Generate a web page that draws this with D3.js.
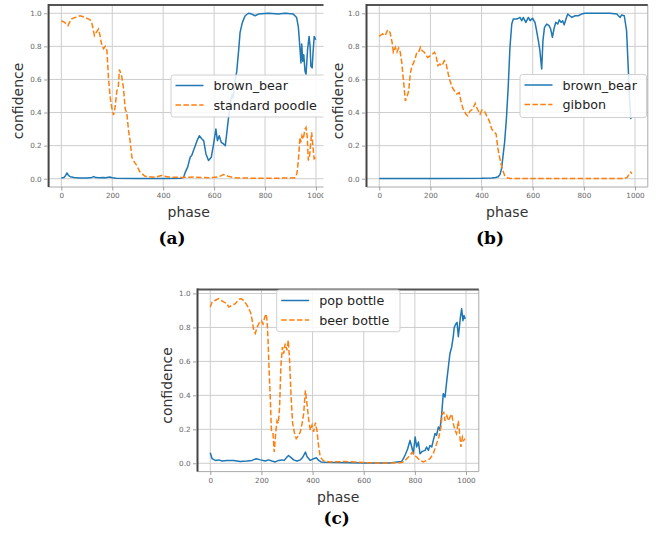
<!DOCTYPE html>
<html>
<head>
<meta charset="utf-8">
<script src="https://cdn.jsdelivr.net/npm/d3@7"></script>
<style>
  html, body { margin: 0; padding: 0; background: #fff; }
  svg { display: block; }
  text { font-family: "DejaVu Sans", sans-serif; }
</style>
</head>
<body>
<svg id="fig" width="657" height="535"></svg>
<script>
// Tick labels shared by every panel
const phaseTicks = [0, 200, 400, 600, 800, 1000];
const confTicks = [0, 0.2, 0.4, 0.6, 0.8, 1.0];

// Classifier confidence over the interpolation phase, [phase, confidence]
const bearA = [[0,0.005],[10,0.008],[17,0.02],[22,0.035],[28,0.02],[35,0.012],[50,0.008],[70,0.004],[100,0.005],[120,0.008],[127,0.013],[135,0.007],[150,0.006],[165,0.008],[175,0.006],[190,0.01],[200,0.006],[215,0.003],[300,0.002],[400,0.002],[470,0.003],[480,0.008],[487,0.04],[496,0.07],[506,0.13],[512,0.14],[519,0.17],[526,0.2],[533,0.23],[542,0.26],[552,0.24],[559,0.23],[568,0.15],[578,0.11],[589,0.13],[598,0.21],[607,0.30],[613,0.23],[620,0.26],[628,0.22],[637,0.21],[644,0.20],[650,0.28],[656,0.36],[663,0.45],[670,0.51],[675,0.49],[680,0.57],[689,0.65],[696,0.77],[702,0.885],[711,0.945],[722,0.985],[735,1.0],[748,0.995],[761,0.985],[774,0.995],[813,1.0],[852,0.995],[879,1.0],[911,0.995],[924,0.975],[931,0.915],[937,0.79],[941,0.70],[944,0.815],[948,0.71],[952,0.75],[957,0.65],[961,0.63],[967,0.78],[973,0.86],[977,0.80],[980,0.68],[985,0.67],[988,0.75],[993,0.86],[999,0.84]];
const poodleA = [[0,0.955],[13,0.945],[26,0.925],[39,0.965],[55,0.975],[74,0.985],[94,0.975],[113,0.96],[120,0.94],[130,0.865],[137,0.885],[146,0.905],[152,0.865],[159,0.805],[166,0.785],[172,0.80],[179,0.775],[185,0.613],[192,0.49],[198,0.43],[205,0.385],[211,0.43],[218,0.53],[224,0.56],[228,0.66],[237,0.62],[244,0.55],[251,0.42],[257,0.40],[264,0.29],[270,0.23],[277,0.13],[287,0.10],[296,0.08],[309,0.04],[329,0.015],[368,0.008],[382,0.015],[394,0.02],[405,0.015],[420,0.01],[472,0.008],[520,0.01],[580,0.006],[615,0.01],[637,0.025],[655,0.015],[680,0.006],[750,0.003],[850,0.003],[918,0.006],[925,0.03],[931,0.11],[937,0.25],[941,0.22],[945,0.26],[950,0.24],[957,0.30],[961,0.31],[966,0.25],[970,0.11],[975,0.14],[983,0.28],[989,0.18],[993,0.12],[999,0.13]];

const bearB = [[0,0.002],[200,0.002],[400,0.003],[440,0.005],[455,0.007],[465,0.012],[472,0.025],[478,0.06],[484,0.14],[490,0.22],[497,0.36],[504,0.55],[511,0.795],[518,0.935],[524,0.965],[538,0.965],[550,0.975],[557,0.955],[563,0.975],[573,0.945],[583,0.975],[590,0.955],[599,0.97],[609,0.945],[615,0.895],[622,0.835],[628,0.775],[635,0.663],[640,0.835],[646,0.915],[655,0.935],[664,0.925],[670,0.905],[677,0.855],[683,0.905],[690,0.945],[698,0.935],[704,0.96],[711,0.945],[717,0.955],[723,0.93],[730,0.965],[737,0.995],[745,0.985],[753,0.975],[766,0.985],[778,0.985],[791,0.995],[804,1.0],[900,1.0],[929,0.995],[935,0.985],[942,0.975],[948,0.99],[958,0.985],[967,0.895],[974,0.653],[978,0.49],[984,0.36]];
const gibbonB = [[0,0.86],[3,0.865],[13,0.875],[23,0.865],[33,0.90],[42,0.885],[50,0.825],[55,0.765],[63,0.795],[69,0.765],[76,0.79],[82,0.765],[88,0.70],[96,0.57],[102,0.47],[109,0.50],[115,0.53],[121,0.633],[128,0.683],[134,0.70],[140,0.725],[147,0.765],[154,0.765],[161,0.795],[167,0.775],[176,0.765],[189,0.733],[202,0.745],[216,0.765],[222,0.745],[229,0.683],[237,0.693],[245,0.683],[254,0.713],[261,0.70],[267,0.653],[274,0.603],[285,0.553],[293,0.533],[303,0.512],[313,0.52],[319,0.47],[328,0.42],[339,0.39],[346,0.38],[355,0.41],[365,0.42],[375,0.455],[384,0.42],[394,0.39],[401,0.415],[411,0.41],[420,0.38],[430,0.35],[440,0.30],[450,0.28],[457,0.27],[463,0.19],[469,0.14],[476,0.09],[483,0.05],[490,0.02],[500,0.006],[512,0.001],[700,0.001],[960,0.001],[970,0.01],[978,0.03],[983,0.04],[988,0.03]];

const popC = [[0,0.062],[7,0.027],[20,0.017],[33,0.02],[46,0.013],[65,0.017],[91,0.017],[117,0.01],[143,0.013],[163,0.017],[180,0.027],[196,0.02],[215,0.013],[228,0.02],[241,0.013],[254,0.008],[267,0.017],[280,0.02],[289,0.017],[300,0.037],[306,0.046],[316,0.033],[326,0.02],[339,0.013],[352,0.02],[362,0.037],[372,0.066],[378,0.04],[391,0.017],[404,0.027],[415,0.033],[424,0.017],[433,0.008],[450,0.006],[500,0.004],[600,0.002],[700,0.002],[748,0.01],[755,0.027],[764,0.056],[772,0.086],[781,0.135],[788,0.096],[794,0.056],[801,0.155],[807,0.096],[814,0.125],[820,0.056],[829,0.07],[840,0.076],[846,0.096],[853,0.076],[859,0.105],[866,0.096],[872,0.135],[879,0.175],[885,0.165],[892,0.214],[898,0.195],[905,0.29],[911,0.41],[918,0.39],[925,0.49],[931,0.567],[937,0.645],[944,0.685],[950,0.745],[954,0.80],[960,0.82],[965,0.83],[970,0.745],[974,0.80],[978,0.86],[983,0.91],[988,0.84],[992,0.87],[997,0.85]];
const beerC = [[0,0.92],[7,0.95],[20,0.96],[33,0.97],[42,0.96],[52,0.95],[65,0.94],[72,0.92],[85,0.93],[98,0.94],[111,0.965],[120,0.97],[130,0.96],[144,0.93],[157,0.89],[163,0.85],[170,0.78],[176,0.765],[183,0.80],[192,0.83],[200,0.84],[206,0.82],[213,0.86],[218,0.88],[222,0.84],[226,0.72],[230,0.55],[235,0.37],[239,0.195],[245,0.18],[250,0.067],[256,0.18],[261,0.25],[266,0.235],[271,0.33],[276,0.57],[282,0.685],[287,0.645],[293,0.705],[300,0.665],[305,0.725],[310,0.61],[316,0.39],[322,0.235],[329,0.18],[336,0.145],[346,0.165],[352,0.185],[359,0.235],[365,0.29],[372,0.43],[378,0.35],[385,0.255],[391,0.195],[398,0.225],[404,0.185],[411,0.24],[417,0.195],[424,0.096],[430,0.037],[443,0.014],[469,0.008],[520,0.01],[560,0.008],[600,0.004],[650,0.002],[700,0.002],[748,0.004],[760,0.012],[768,0.027],[781,0.046],[790,0.066],[798,0.046],[807,0.037],[820,0.017],[833,0.008],[846,0.017],[859,0.027],[872,0.056],[885,0.115],[894,0.155],[902,0.214],[907,0.29],[913,0.30],[918,0.25],[925,0.28],[931,0.25],[937,0.27],[944,0.29],[950,0.235],[957,0.195],[963,0.175],[970,0.25],[975,0.175],[980,0.096],[986,0.155],[991,0.135],[996,0.145]];

const seriesNames = {
  a: ["brown_bear", "standard poodle"],
  b: ["brown_bear", "gibbon"],
  c: ["pop bottle", "beer bottle"]
};
const captions = { a: "(a)", b: "(b)", c: "(c)" };

const BLUE = "#1f77b4", ORANGE = "#ff7f0e";

// Panel geometry (axes box, legend box, caption anchor, optional clip)
const panels = [
  { key: "a", box: [48.6, 5, 328.7, 187], yDom: [-0.05, 1.05], data: [bearA, poodleA],
    legend: [171, 75, 155, 42], caption: [172, 243.5], ylabX: 18.3, clipRight: 323.5 },
  { key: "b", box: [366.5, 5, 647.8, 187], yDom: [-0.05, 1.05], data: [bearB, gibbonB],
    legend: [520, 74.5, 126.5, 43], caption: [490, 243.5], ylabX: 338.3 },
  { key: "c", box: [197.5, 289.4, 478.8, 471.6], yDom: [-0.049, 1.024], data: [popC, beerC],
    legend: [276.7, 290, 123.3, 41.7], caption: [336.7, 523.5], ylabX: 166.7 }
];

const svg = d3.select("#fig");
const defs = svg.append("defs");

panels.forEach(p => {
  const [x0, y0, x1, y1] = p.box;
  const g = svg.append("g");
  if (p.clipRight) {
    defs.append("clipPath").attr("id", "clip-" + p.key)
      .append("rect").attr("x", 0).attr("y", 0).attr("width", p.clipRight).attr("height", 260);
    g.attr("clip-path", `url(#clip-${p.key})`);
  }

  const x = d3.scaleLinear().domain([-50, 1050]).range([x0, x1]);
  const y = d3.scaleLinear().domain(p.yDom).range([y1, y0]);

  // grid
  g.append("g").selectAll("line.vg").data(phaseTicks).join("line")
    .attr("x1", d => x(d)).attr("x2", d => x(d)).attr("y1", y0).attr("y2", y1)
    .attr("stroke", "#cdcdcd").attr("stroke-width", 1);
  g.append("g").selectAll("line.hg").data(confTicks).join("line")
    .attr("x1", x0).attr("x2", x1).attr("y1", d => y(d)).attr("y2", d => y(d))
    .attr("stroke", "#cdcdcd").attr("stroke-width", 1);

  // frame: light right/bottom, darker top/left
  g.append("line").attr("x1", x0).attr("x2", x1).attr("y1", y1).attr("y2", y1)
    .attr("stroke", "#aaa").attr("stroke-width", 1);
  g.append("line").attr("x1", x1).attr("x2", x1).attr("y1", y0).attr("y2", y1)
    .attr("stroke", "#aaa").attr("stroke-width", 1);
  g.append("line").attr("x1", x0).attr("x2", x1).attr("y1", y0).attr("y2", y0)
    .attr("stroke", "#555").attr("stroke-width", 2);
  g.append("line").attr("x1", x0).attr("x2", x0).attr("y1", y0 - 1).attr("y2", y1)
    .attr("stroke", "#444").attr("stroke-width", 2);

  // axes
  const xAxis = d3.axisBottom(x).tickValues(phaseTicks).tickSize(3.5).tickPadding(2.5)
    .tickFormat(d3.format("d"));
  const yAxis = d3.axisLeft(y).tickValues(confTicks).tickSize(3.5).tickPadding(2.5)
    .tickFormat(d3.format(".1f"));
  const gx = g.append("g").attr("transform", `translate(0,${y1})`).call(xAxis);
  const gy = g.append("g").attr("transform", `translate(${x0 - 1},0)`).call(yAxis);
  [gx, gy].forEach(ax => {
    ax.select(".domain").remove();
    ax.selectAll(".tick line").attr("stroke", "#888").attr("stroke-width", 0.8);
    ax.selectAll(".tick text").attr("fill", "#666")
      .style("font-size", "7.2px").style("font-family", "DejaVu Sans, sans-serif");
  });

  // series lines
  const line = d3.line().x(d => x(d[0])).y(d => y(d[1]));
  g.append("path").datum(p.data[0]).attr("d", line)
    .attr("fill", "none").attr("stroke", BLUE).attr("stroke-width", 1.5)
    .attr("stroke-linejoin", "round");
  g.append("path").datum(p.data[1]).attr("d", line)
    .attr("fill", "none").attr("stroke", ORANGE).attr("stroke-width", 1.5)
    .attr("stroke-dasharray", "5.5,2.4");

  // legend
  const [lx, ly, lw, lh] = p.legend;
  const lg = g.append("g");
  lg.append("rect").attr("x", lx).attr("y", ly).attr("width", lw).attr("height", lh)
    .attr("rx", 2.5).attr("fill", "#fff").attr("fill-opacity", 0.85)
    .attr("stroke", "#d0d0d0").attr("stroke-width", 1);
  const names = seriesNames[p.key];
  [BLUE, ORANGE].forEach((c, i) => {
    const cy = ly + 10.5 + i * 19.5;
    lg.append("line").attr("x1", lx + 4.5).attr("x2", lx + 32.5)
      .attr("y1", cy).attr("y2", cy).attr("stroke", c).attr("stroke-width", 1.5)
      .attr("stroke-dasharray", i === 1 ? "5.5,2.4" : null);
    lg.append("text").attr("x", lx + 42.5).attr("y", cy)
      .attr("dominant-baseline", "central").attr("fill", "#222")
      .style("font-size", "12.7px").text(names[i]);
  });

  // axis titles
  g.append("text").attr("x", (x0 + x1) / 2).attr("y", y1 + 25)
    .attr("text-anchor", "middle").attr("dominant-baseline", "central")
    .attr("fill", "#333").style("font-size", "14px").text("phase");
  g.append("text")
    .attr("transform", `translate(${p.ylabX},${(y0 + y1) / 2 + 5}) rotate(-90)`)
    .attr("text-anchor", "middle").attr("dominant-baseline", "central")
    .attr("fill", "#333").style("font-size", "14px").text("confidence");

  // subfigure caption
  svg.append("text").attr("x", p.caption[0]).attr("y", p.caption[1])
    .attr("text-anchor", "middle").attr("fill", "#000")
    .style("font-family", "DejaVu Serif, serif").style("font-weight", "bold")
    .style("font-size", "17px").text(captions[p.key]);
});
</script>
</body>
</html>
